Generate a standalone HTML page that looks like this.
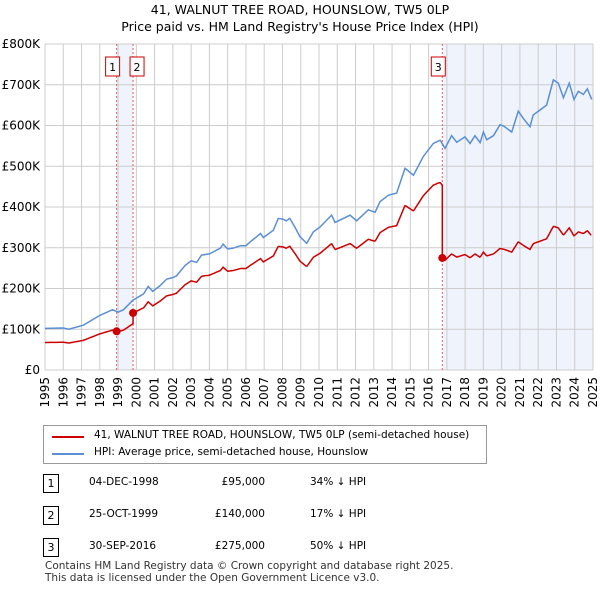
<!DOCTYPE html>
<html><head><meta charset="utf-8"><style>
body{margin:0;background:#fff;font-family:"DejaVu Sans","Liberation Sans",sans-serif;}
#wrap{position:relative;width:600px;height:590px;overflow:hidden}
.t{position:absolute;font-size:12px;color:#000;white-space:nowrap}
</style></head><body><div id="wrap">
<svg id="c" width="600" height="590" style="position:absolute;left:0;top:0"></svg>
<div class="t" style="left:0;width:600px;text-align:center;top:2px;font-size:12.5px">41, WALNUT TREE ROAD, HOUNSLOW, TW5 0LP</div>
<div class="t" style="left:0;width:600px;text-align:center;top:19px;font-size:12.5px">Price paid vs. HM Land Registry's House Price Index (HPI)</div>
<div style="position:absolute;left:43px;top:425px;width:442px;height:37px;border:1px solid #999">
 <div style="position:absolute;left:8px;top:10px;width:32px;height:2px;background:#cc0000"></div>
 <div class="t" style="left:50px;top:3px;font-size:10.5px">41, WALNUT TREE ROAD, HOUNSLOW, TW5 0LP (semi-detached house)</div>
 <div style="position:absolute;left:8px;top:27px;width:32px;height:2px;background:#5b8fd4"></div>
 <div class="t" style="left:50px;top:20px;font-size:10.5px">HPI: Average price, semi-detached house, Hounslow</div>
</div>
<div id="tbl"></div>
<div class="t" style="left:45px;top:560px;font-size:10.5px;color:#333">Contains HM Land Registry data © Crown copyright and database right 2025.</div>
<div class="t" style="left:45px;top:572px;font-size:10.5px;color:#333">This data is licensed under the Open Government Licence v3.0.</div>
</div>
<script>
const hpiYears=[1995,1996,1996.3,1997.1,1998,1998.7,1999,1999.3,1999.8,2000.4,2000.65,2000.9,2001.3,2001.66,2002,2002.2,2002.66,2003,2003.3,2003.57,2004,2004.6,2004.75,2005,2005.3,2005.7,2006,2006.2,2006.8,2006.95,2007.5,2007.77,2008.04,2008.2,2008.4,2008.7,2008.96,2009.33,2009.69,2010.06,2010.69,2010.88,2011.7,2012.06,2012.7,2013.07,2013.34,2013.8,2014.25,2014.71,2015.17,2015.71,2016.26,2016.63,2016.9,2017.26,2017.54,2017.99,2018.27,2018.54,2018.82,2019,2019.18,2019.55,2019.91,2020.13,2020.55,2020.91,2021.19,2021.55,2021.73,2022.1,2022.46,2022.83,2023.1,2023.38,2023.7,2023.96,2024.2,2024.47,2024.69,2024.93];
const hpiValues=[102,103,100,110,134,148,142,148,171,187,205,193,207,223,227,231,256,268,264,282,285,299,309,297,299,305,305,313,335,325,343,372,370,366,372,349,327,311,339,351,380,362,380,366,393,387,413,429,434,495,478,524,556,564,544,575,559,572,556,575,558,584,565,575,602,598,584,635,617,597,626,638,650,712,704,668,704,664,684,676,690,664];
const saleDates=[1998.92,1999.82,2016.75];
const salePrices=[95,140,275];
const saleLabels=["1","2","3"];
const saleDateText=["04-DEC-1998","25-OCT-1999","30-SEP-2016"];
const salePriceText=["£95,000","£140,000","£275,000"];
const saleHpiText=["34% ↓ HPI","17% ↓ HPI","50% ↓ HPI"];
const yTicks=[0,100,200,300,400,500,600,700,800];
const yTickLabels=["£0","£100K","£200K","£300K","£400K","£500K","£600K","£700K","£800K"];
const xYears=[1995,1996,1997,1998,1999,2000,2001,2002,2003,2004,2005,2006,2007,2008,2009,2010,2011,2012,2013,2014,2015,2016,2017,2018,2019,2020,2021,2022,2023,2024,2025];

const L=45,R=593,T=44,B=370;
const FF='DejaVu Sans, Liberation Sans, sans-serif';
const X=y=>L+(y-1995)/30*(R-L);
const Y=v=>B-v/800*(B-T);
const NS="http://www.w3.org/2000/svg";
const svg=document.getElementById('c');
function mk(tag,at,name){const e=document.createElementNS(NS,tag);for(const k in at)e.setAttribute(k,at[k]);


svg.appendChild(e);return e;}
function hpiAt(t){for(let i=1;i<hpiYears.length;i++){if(t<=hpiYears[i]){const a=hpiYears[i-1],b=hpiYears[i];return hpiValues[i-1]+(hpiValues[i]-hpiValues[i-1])*(t-a)/(b-a);}}return hpiValues[hpiValues.length-1];}
mk('rect',{x:X(saleDates[0]),y:T,width:X(saleDates[1])-X(saleDates[0]),height:B-T,fill:'#eef3fc'},'shade-sale-1-2');
mk('rect',{x:X(saleDates[2]),y:T,width:R-X(saleDates[2]),height:B-T,fill:'#eef3fc'},'shade-sale-3');
xYears.forEach(y=>{mk('line',{x1:X(y),x2:X(y),y1:T,y2:B,stroke:'#cccccc','stroke-width':1},'x-grid-line');
const t=mk('text',{x:0,y:0,transform:`translate(${X(y)+4},${B+7}) rotate(-90)`,'text-anchor':'end','font-size':12,'font-family':FF,fill:'#000'},'x-tick-label');t.textContent=y;});
yTicks.forEach((v,i)=>{mk('line',{x1:L,x2:R,y1:Y(v),y2:Y(v),stroke:'#cccccc','stroke-width':1},'y-grid-line');
const t=mk('text',{x:40,y:Y(v)+4,'text-anchor':'end','font-size':12,'font-family':FF,fill:'#000'},'y-tick-label');t.textContent=yTickLabels[i];});
saleDates.forEach((d,i)=>{mk('line',{x1:X(d),x2:X(d),y1:T,y2:B,stroke:'#e06060','stroke-width':1,'stroke-dasharray':'2,2'},'sale-marker-line');});
const boxX=[X(saleDates[0])-4,X(saleDates[1])+4,X(saleDates[2])-4];
saleLabels.forEach((s,i)=>{mk('rect',{x:boxX[i]-7,y:57,width:14,height:19,fill:'#fff',stroke:'#cc0000'},'sale-label-box');
const t=mk('text',{x:boxX[i],y:71,'text-anchor':'middle','font-size':11,'font-family':FF},'sale-label-text');t.textContent=s;});
mk('polyline',{points:hpiYears.map((y,i)=>X(y)+','+Y(hpiValues[i])).join(' '),fill:'none',stroke:'#5b8fd4','stroke-width':1.5},'hpi-line');
const pts=[];const grid=[];for(let t=1995;t<=2024.93;t+=0.05)grid.push(t);
saleDates.forEach(d=>grid.push(d,d+0.0001));grid.sort((a,b)=>a-b);
grid.forEach(t=>{let k=0;for(let i=0;i<saleDates.length;i++)if(t>=saleDates[i]+0.00005)k=i;
let v=salePrices[k]*hpiAt(t)/hpiAt(saleDates[k]);
pts.push(X(t)+','+Y(v));});
mk('polyline',{points:pts.join(' '),fill:'none',stroke:'#cc0000','stroke-width':1.5},'price-line');
saleDates.forEach((d,i)=>mk('circle',{cx:X(d),cy:Y(salePrices[i]),r:4,fill:'#cc0000'},'sale-point'));
const tb=document.getElementById('tbl');
saleLabels.forEach((s,i)=>{const y=474+i*32;
const row=document.createElement('div');row.style.cssText=`position:absolute;left:0;top:${y}px;width:600px;height:20px`;


row.innerHTML=`<div style="position:absolute;left:43px;top:0;width:14px;height:17px;border:1px solid #000;font-size:11px;text-align:center;line-height:17px">${s}</div>
<div class="t" style="left:89px;top:2px;font-size:10.5px">${saleDateText[i]}</div>
<div class="t" style="left:195px;width:70px;text-align:right;top:2px;font-size:10.5px">${salePriceText[i]}</div>
<div class="t" style="left:310px;top:2px;font-size:10.5px">${saleHpiText[i]}</div>`;
tb.appendChild(row);});
</script></body></html>
